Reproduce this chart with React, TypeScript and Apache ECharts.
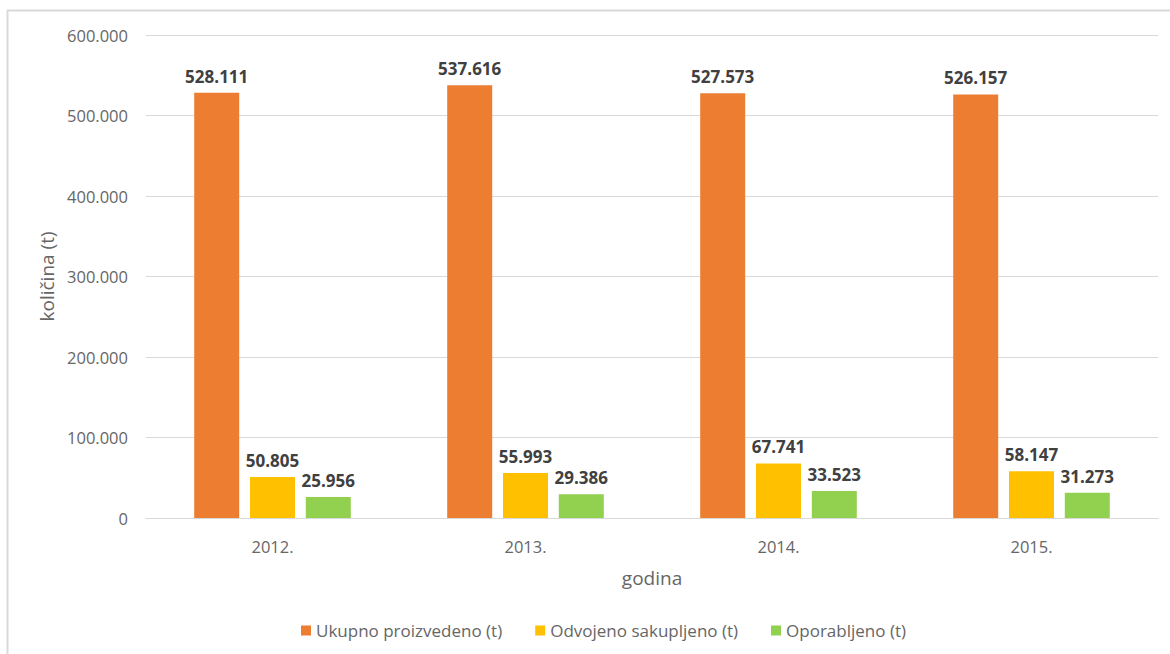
import React, { useEffect, useRef } from "react";
import * as echarts from "echarts";

const categories = ["2012.", "2013.", "2014.", "2015."];
const seriesNames = ["Ukupno proizvedeno (t)", "Odvojeno sakupljeno (t)", "Oporabljeno (t)"];
const ukupno = [528111, 537616, 527573, 526157];
const odvojeno = [50805, 55993, 67741, 58147];
const oporabljeno = [25956, 29386, 33523, 31273];
const colors = ["#ED7D31", "#FFC000", "#92D050"];

const fmt = (v: number) => {
  if (v === 0) return "0";
  return String(Math.round(v)).replace(/\B(?=(\d{3})+(?!\d))/g, ".");
};

const FONT = "'Open Sans', Lato, sans-serif";
const GRAY = "#666666";

export default function App() {
  const ref = useRef<HTMLDivElement>(null);
  useEffect(() => {
    document.body.style.margin = "0";
    const chart = echarts.init(ref.current!, null, { renderer: "svg" });
    const data = [ukupno, odvojeno, oporabljeno];
    chart.setOption({
      animation: false,
      backgroundColor: "#ffffff",
      textStyle: { fontFamily: FONT },
      graphic: [
        {
          type: "rect",
          shape: { x: 7.5, y: 10.5, width: 1170, height: 660 },
          style: { fill: "none", stroke: "#d9d9d9", lineWidth: 2 },
          silent: true,
          z: -1,
        },
      ],
      grid: { left: 146, right: 12, top: 35, bottom: 136, containLabel: false },
      legend: {
        bottom: 10,
        left: 296,
        itemWidth: 10,
        itemHeight: 10,
        itemGap: 33,
        icon: "rect",
        textStyle: { color: GRAY, fontSize: 17, fontFamily: FONT },
        data: seriesNames,
      },
      xAxis: {
        type: "category",
        data: categories,
        name: "godina",
        nameLocation: "middle",
        nameGap: 50,
        nameTextStyle: { color: GRAY, fontSize: 19, fontFamily: FONT },
        axisLine: { lineStyle: { color: "#d9d9d9" } },
        axisTick: { show: false },
        axisLabel: { color: GRAY, fontSize: 16.5, margin: 20, fontFamily: FONT },
      },
      yAxis: {
        type: "value",
        min: 0,
        max: 600000,
        interval: 100000,
        name: "količina (t)",
        nameLocation: "middle",
        nameGap: 88,
        nameRotate: 90,
        nameTextStyle: { color: GRAY, fontSize: 19, fontFamily: FONT },
        axisLine: { show: false },
        axisTick: { show: false },
        axisLabel: { color: GRAY, fontSize: 16.5, margin: 18, fontFamily: FONT, formatter: (v: number) => fmt(v) },
        splitLine: { lineStyle: { color: "#d9d9d9" } },
      },
      series: seriesNames.map((name, i) => ({
        name,
        type: "bar",
        data: data[i],
        barWidth: 45,
        barGap: "24%",
        itemStyle: { color: colors[i] },
        label: {
          show: true,
          position: "top",
          distance: 8,
          color: "#404040",
          fontWeight: "bold",
          fontSize: 17,
          fontFamily: FONT,
          formatter: (p: any) => fmt(p.value),
        },
      })),
    });
    return () => chart.dispose();
  }, []);
  return <div ref={ref} style={{ width: 1170, height: 654 }} />;
}
